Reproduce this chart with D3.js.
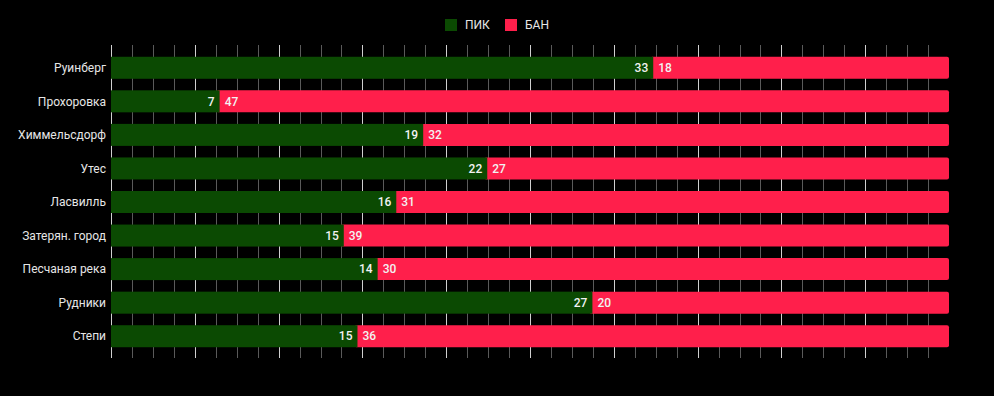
<!DOCTYPE html>
<html>
<head>
<meta charset="utf-8">
<script src="https://cdn.jsdelivr.net/npm/d3@7"></script>
<style>
  html, body { margin: 0; padding: 0; background: #000; }
  svg { display: block; font-family: Roboto, "Noto Sans", sans-serif; }
</style>
</head>
<body>
<svg id="chart" width="994" height="396"></svg>
<script>
let categories = ["Руинберг", "Прохоровка", "Химмельсдорф", "Утес", "Ласвилль", "Затерян. город", "Песчаная река", "Рудники", "Степи"];
let pickValues = [33, 7, 19, 22, 16, 15, 14, 27, 15];
let banValues = [18, 47, 32, 27, 31, 39, 30, 20, 36];
let seriesNames = ["ПИК", "БАН"];
let seriesColors = ["#0b4a02", "#ff1f4b"];

function drawChart() {
    let canvas = d3.select("#chart");

    let left = 111;
    let right = 949;
    let top = 51;
    let bottom = 353;

    let data = categories.map((c, i) => {
        let total = pickValues[i] + banValues[i];
        return { name: c, pick: pickValues[i], ban: banValues[i], pickPct: pickValues[i] / total * 100 };
    });

    let x = d3.scaleLinear().domain([0, 100]).range([left, right]);
    let y = d3.scaleBand()
        .domain(categories)
        .range([top, bottom])
        .paddingInner(0.344)
        .paddingOuter(0.172);

    // grid lines
    let ticks = d3.range(0, 100, 2.5);
    canvas.append("g")
        .selectAll("line")
        .data(ticks)
        .enter()
        .append("line")
        .attr("x1", d => Math.round(x(d)) + 0.5)
        .attr("x2", d => Math.round(x(d)) + 0.5)
        .attr("y1", 45)
        .attr("y2", 358)
        .attr("stroke", d => d % 10 === 0 ? "#d0d0d0" : "#5a5a5a")
        .attr("stroke-width", 1);

    let rows = canvas.append("g").selectAll("g").data(data).enter().append("g");

    // red (ban) bar full width with rounded end
    rows.append("rect")
        .attr("x", d => x(d.pickPct) - 3)
        .attr("y", d => y(d.name))
        .attr("width", d => x(100) - x(d.pickPct) + 3)
        .attr("height", y.bandwidth())
        .attr("rx", 2)
        .attr("fill", seriesColors[1]);

    rows.append("rect")
        .attr("x", x(0))
        .attr("y", d => y(d.name))
        .attr("width", d => x(d.pickPct) - x(0))
        .attr("height", y.bandwidth())
        .attr("fill", seriesColors[0]);

    rows.append("text")
        .attr("x", d => x(d.pickPct) - 5)
        .attr("y", d => y(d.name) + y.bandwidth() / 2)
        .attr("dy", "0.35em")
        .attr("text-anchor", "end")
        .attr("fill", "#f2f2f2")
        .attr("font-size", 12)
        .attr("font-weight", 500)
        .text(d => d.pick);

    rows.append("text")
        .attr("x", d => x(d.pickPct) + 5)
        .attr("y", d => y(d.name) + y.bandwidth() / 2)
        .attr("dy", "0.35em")
        .attr("text-anchor", "start")
        .attr("fill", "#f2f2f2")
        .attr("font-size", 12)
        .attr("font-weight", 500)
        .text(d => d.ban);

    // category labels
    rows.append("text")
        .attr("x", left - 5)
        .attr("y", d => y(d.name) + y.bandwidth() / 2)
        .attr("dy", "0.35em")
        .attr("text-anchor", "end")
        .attr("fill", "#e6e6e6")
        .attr("font-size", 12)
        .text(d => d.name);

    // legend
    let legend = canvas.append("g");
    let legendX = [445, 505];
    seriesNames.forEach((s, i) => {
        legend.append("rect")
            .attr("x", legendX[i])
            .attr("y", 19)
            .attr("width", 12)
            .attr("height", 12)
            .attr("fill", seriesColors[i]);
        legend.append("text")
            .attr("x", legendX[i] + 20)
            .attr("y", 25)
            .attr("dy", "0.35em")
            .attr("fill", "#e6e6e6")
            .attr("font-size", 12)
            .text(s);
    });
}

drawChart();
</script>
</body>
</html>
